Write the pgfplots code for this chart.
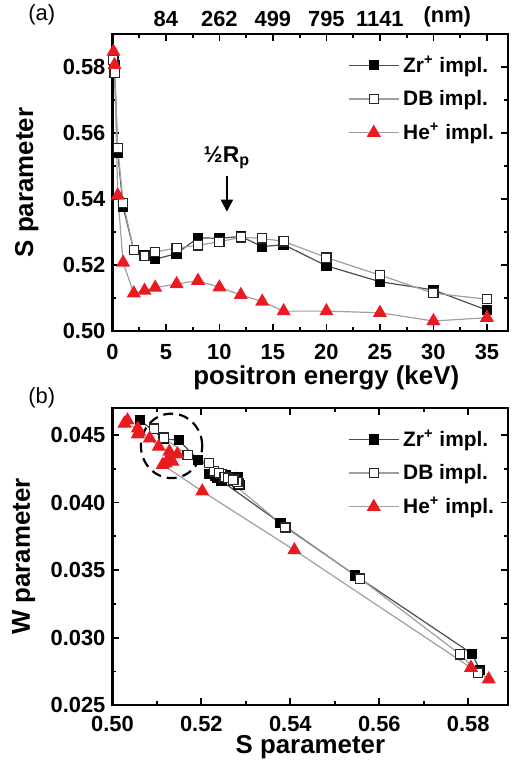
\documentclass[border=0pt]{standalone}
\usepackage{fontspec}
\setmainfont{Liberation Sans}
\usepackage{pgfplots}
\pgfplotsset{compat=1.18}
\usetikzlibrary{arrows.meta}
\definecolor{hered}{RGB}{232,28,32}

\tikzset{lbl/.style={font=\fontsize{13}{15}\selectfont\bfseries, anchor=center}}
\pgfplotsset{
  panel/.style={
    width=199pt, height=149.5pt, scale only axis,
    axis line style={line width=1.1pt},
    every tick/.style={black, line width=0.9pt},
    major tick length=3.5pt, minor tick length=2pt,
    tick align=inside,
    tick label style={font=\fontsize{11}{13}\selectfont\bfseries},
    /pgf/number format/assume math mode=true,
    scaled ticks=false,
    legend style={draw=none, fill=none, font=\fontsize{10.5}{12}\selectfont\bfseries,
      at={(axis description cs:0.99,0.955)}, anchor=north east, row sep=3.5pt},
    legend cell align=left,
    legend image code/.code={\draw[mark repeat=2,mark phase=2,##1] plot coordinates {(0pt,0pt) (12.5pt,0pt) (25pt,0pt)};},
  },
  zr/.style={black!70, line width=0.6pt, mark=square*, mark size=2.3pt, mark options={solid, draw=black, fill=black}},
  db/.style={gray!75, line width=0.6pt, mark=square*, mark size=2.3pt, mark options={solid, draw=black!85, fill=white}},
  he/.style={gray!75, line width=0.6pt, mark=triangle*, mark size=3.5pt, mark options={solid, draw=hered, fill=hered}},
}

\begin{document}
\begin{tikzpicture}
\useasboundingbox (-56.5pt,17pt) rectangle (205pt,-366pt);

% (a) S parameter vs positron energy
\begin{axis}[panel, at={(0,0)}, anchor=north west,
  xmin=0, xmax=37, ymin=0.50, ymax=0.59,
  xtick={0,5,...,35}, minor x tick num=1,
  ytick={0.50,0.52,0.54,0.56,0.58}, minor y tick num=1,
  xticklabel style={yshift=-3pt},
  yticklabel style={/pgf/number format/.cd, fixed, fixed zerofill, precision=2},
  xlabel={positron energy (keV)}, ylabel={S parameter},
  every axis x label/.style={lbl, at={(axis description cs:0.54,-0.157)}},
  every axis y label/.style={lbl, at={(axis description cs:-0.216,0.5)}, rotate=90},
]
\addplot[zr] coordinates {
  (0.1,0.5825) (0.2,0.5805) (0.5,0.5540) (1,0.5376) (2,0.5245) (3,0.5230) (4,0.5218)
  (6,0.5235) (8,0.5283) (10,0.5281) (12,0.5287) (14,0.5256) (16,0.5262) (20,0.5198)
  (25,0.5150) (30,0.5125) (35,0.5064)};
\addlegendentry{Zr\textsuperscript{+} impl.}
\addplot[db] coordinates {
  (0.1,0.5822) (0.2,0.5782) (0.5,0.5554) (1,0.5388) (2,0.5245) (3,0.5228) (4,0.5240)
  (6,0.5252) (8,0.5260) (10,0.5271) (12,0.5284) (14,0.5281) (16,0.5272) (20,0.5223)
  (25,0.5170) (30,0.5115) (35,0.5097)};
\addlegendentry{DB impl.}
\addplot[he] coordinates {
  (0.1,0.5846) (0.2,0.5806) (0.5,0.5411) (1,0.5208) (2,0.5115) (3,0.5123) (4,0.5132)
  (6,0.5143) (8,0.5153) (10,0.5133) (12,0.5110) (14,0.5090) (16,0.5061) (20,0.5061)
  (25,0.5056) (30,0.5031) (35,0.5041)};
\addlegendentry{He\textsuperscript{+} impl.}
\draw[-{Triangle[length=6pt,width=6pt]}, line width=1.1pt] (axis cs:10.7,0.5471) -- (axis cs:10.7,0.5362);
\node[font=\fontsize{11.5}{13}\selectfont\bfseries] at (axis cs:10.7,0.5525) {½R\textsubscript{p}};
\end{axis}

% (a) top axis: implantation depth
\begin{axis}[panel, at={(0,0)}, anchor=north west,
  xmin=0, xmax=37, ymin=0.50, ymax=0.59,
  axis x line*=top, axis y line=none,
  xtick={5,10,15,20,25,31.3}, xticklabels={84,262,499,795,1141,(nm)},
  major tick length=0pt,
]
\end{axis}

% (b) W parameter vs S parameter
\begin{axis}[panel, at={(0,-188pt)}, anchor=north west,
  xmin=0.50, xmax=0.589, ymin=0.025, ymax=0.047,
  xtick={0.50,0.52,0.54,0.56,0.58}, minor x tick num=1,
  ytick={0.025,0.030,0.035,0.040,0.045}, minor y tick num=1,
  xticklabel style={yshift=-2pt, /pgf/number format/.cd, fixed, fixed zerofill, precision=2},
  yticklabel style={/pgf/number format/.cd, fixed, fixed zerofill, precision=3},
  xlabel={S parameter}, ylabel={W parameter},
  every axis x label/.style={lbl, at={(axis description cs:0.5,-0.142)}},
  every axis y label/.style={lbl, at={(axis description cs:-0.224,0.5)}, rotate=90},
]
\addplot[zr] coordinates {
  (0.5826,0.02761) (0.5809,0.02880) (0.5546,0.03461) (0.5378,0.03847) (0.5245,0.04160)
  (0.5230,0.04200) (0.5218,0.04210) (0.5235,0.04180) (0.5283,0.04130) (0.5281,0.04190)
  (0.5287,0.04130) (0.5256,0.04200) (0.5262,0.04190) (0.5193,0.04315) (0.5149,0.04462)
  (0.5116,0.04469) (0.5062,0.04608)};
\addlegendentry{Zr\textsuperscript{+} impl.}
\addplot[db] coordinates {
  (0.5822,0.02742) (0.5782,0.02876) (0.5557,0.03437) (0.5389,0.03815) (0.5245,0.04210)
  (0.5228,0.04230) (0.5240,0.04220) (0.5252,0.04190) (0.5260,0.04180) (0.5271,0.04160)
  (0.5284,0.04140) (0.5281,0.04150) (0.5272,0.04170) (0.5217,0.04291) (0.5169,0.04352)
  (0.5115,0.04480) (0.5094,0.04547)};
\addlegendentry{DB impl.}
\addplot[he] coordinates {
  (0.5846,0.02693) (0.5806,0.02778) (0.5409,0.03648) (0.5202,0.04083) (0.5113,0.04279)
  (0.5120,0.04290) (0.5128,0.04328) (0.5135,0.04303) (0.5146,0.04357) (0.5128,0.04376)
  (0.5104,0.04413) (0.5084,0.04474) (0.5057,0.04504) (0.5060,0.04525) (0.5057,0.04548)
  (0.5027,0.04584) (0.5034,0.04608)};
\addlegendentry{He\textsuperscript{+} impl.}
\draw[dash pattern=on 5pt off 3pt, line width=1.1pt] (axis cs:0.5133,0.04419) ellipse [x radius=15.4pt, y radius=16.2pt];
\end{axis}

\node[font=\fontsize{11}{13}\selectfont] at (-35.5pt,9.5pt) {(a)};
\node[font=\fontsize{11}{13}\selectfont] at (-35.5pt,-183pt) {(b)};
\end{tikzpicture}
\end{document}
